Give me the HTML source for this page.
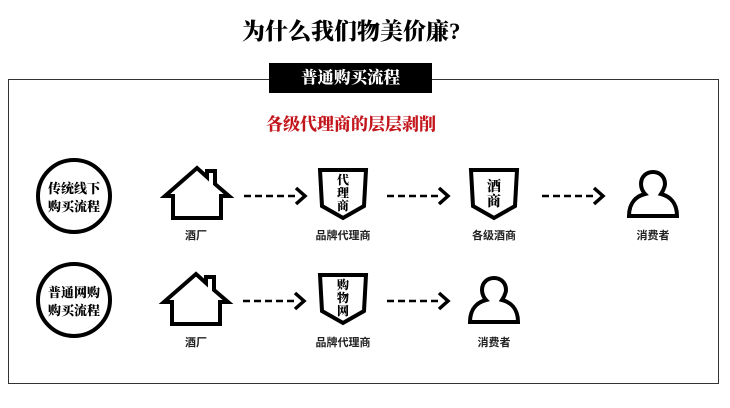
<!DOCTYPE html>
<html><head><meta charset="utf-8"><style>
body{margin:0;width:730px;height:408px;background:#fff;position:relative;overflow:hidden;font-family:"Liberation Serif","Noto Serif CJK SC",serif;}
.a{position:absolute;white-space:nowrap;}
.lbl{position:absolute;font-family:"Liberation Sans","Noto Sans CJK SC",sans-serif;font-size:11px;font-weight:bold;color:#222;transform:translateX(-50%);}
</style></head><body>
<div class="a" style="left:242px;top:13px;font-size:23px;font-weight:900;">为什么我们物美价廉?</div>
<div class="a" style="left:8px;top:79px;width:709px;height:303px;border:1.5px solid #333;"></div>
<div class="a" style="left:269px;top:63px;width:163px;height:30px;background:#000;color:#fff;font-size:16.5px;font-weight:900;text-align:center;line-height:30px;">普通购买流程</div>
<div class="a" style="left:266px;top:110px;font-size:17px;font-weight:900;color:#c3161c;">各级代理商的层层剥削</div>
<svg class="a" style="left:0;top:0" width="730" height="408">
<defs>
<g id="house" fill="none" stroke="#000" stroke-width="4" stroke-linejoin="miter">
<path d="M0,28 L32,0 L42,9 L42,3 L50,3 L50,16 L64,28 L56,28 L56,50 L8,50 L8,28 Z"/>
</g>
<g id="shield" fill="none" stroke="#000" stroke-width="4">
<path d="M2,2 L48,2 L46,38 L25,50 L4,38 Z"/>
</g>
<g id="person" fill="none" stroke="#000" stroke-width="4">
<path d="M2,44 L50,44 C50,30 42,24 34,22 C38,16 38,12 38,12 C38,4 32,0 26,0 C20,0 14,4 14,12 C14,16 16,20 18,22 C10,24 2,30 2,44 Z"/>
</g>
<g id="arrow" fill="none" stroke="#000" stroke-width="2.5">
<path d="M0,0 H54" stroke-dasharray="7,4"/>
<path d="M52,-8 L61,0 L52,8" stroke-width="3.5"/>
</g>
</defs>
<circle cx="74" cy="196" r="36" fill="none" stroke="#000" stroke-width="4"/>
<circle cx="74" cy="300" r="36" fill="none" stroke="#000" stroke-width="4"/>
<use href="#house" x="165" y="168"/>
<use href="#house" x="164" y="274"/>
<use href="#arrow" x="244" y="196"/>
<use href="#arrow" x="243" y="301"/>
<use href="#shield" x="318" y="168"/>
<use href="#shield" x="318" y="273"/>
<use href="#arrow" x="387" y="196"/>
<use href="#arrow" x="387" y="301"/>
<use href="#shield" x="469" y="168"/>
<use href="#arrow" x="542" y="196"/>
<use href="#person" x="627" y="172"/>
<use href="#person" x="468" y="278"/>
<g font-family="Liberation Serif,Noto Serif CJK SC,serif" font-weight="900" font-size="13" text-anchor="middle">
<text x="74" y="193">传统线下</text><text x="74" y="211">购买流程</text>
<text x="74" y="297">普通网购</text><text x="74" y="315">购买流程</text>
<g font-size="12">
<text x="343" y="184">代</text><text x="343" y="197">理</text><text x="343" y="210">商</text>
<text x="343" y="289">购</text><text x="343" y="302">物</text><text x="343" y="315">网</text>
</g>
<text x="494" y="191" font-size="14">酒</text><text x="494" y="206" font-size="14">商</text>
</g>
</svg>
<div class="lbl" style="left:196px;top:227px;">酒厂</div>
<div class="lbl" style="left:343px;top:227px;">品牌代理商</div>
<div class="lbl" style="left:494px;top:227px;">各级酒商</div>
<div class="lbl" style="left:653px;top:227px;">消费者</div>
<div class="lbl" style="left:196px;top:334px;">酒厂</div>
<div class="lbl" style="left:343px;top:334px;">品牌代理商</div>
<div class="lbl" style="left:494px;top:334px;">消费者</div>
</body></html>
